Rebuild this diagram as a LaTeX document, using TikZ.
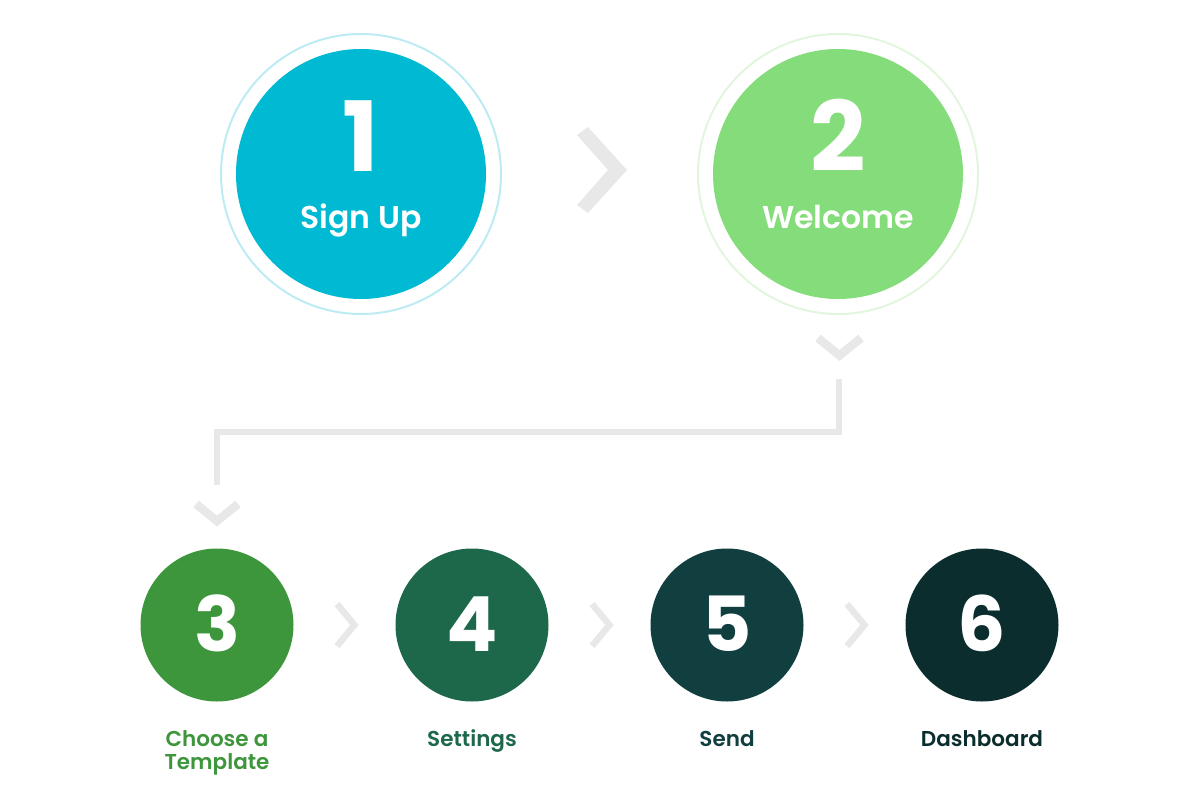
\documentclass[tikz,border=0pt]{standalone}
\usepackage{fontspec}
\setmainfont{Poppins}[BoldFont={Poppins SemiBold}]
\newfontfamily\numfont{Poppins Bold}
\definecolor{cA}{HTML}{00B9D3}
\definecolor{rA}{HTML}{BDEBF3}
\definecolor{cB}{HTML}{85DC7A}
\definecolor{rB}{HTML}{E2F6DE}
\definecolor{cC}{HTML}{3E963C}
\definecolor{cD}{HTML}{1D674B}
\definecolor{cE}{HTML}{113F40}
\definecolor{cF}{HTML}{0B2D2E}
\definecolor{gr}{HTML}{E8E8E8}
\tikzset{
  bigdisc/.style={circle, inner sep=0pt, minimum size=250pt},
  ringc/.style={circle, inner sep=0pt, minimum size=280pt, line width=2pt},
  smalldisc/.style={circle, inner sep=0pt, minimum size=153pt},
  bignum/.style={text=white, font=\fontsize{97}{97}\selectfont\numfont, anchor=base, inner sep=0pt},
  bigtxt/.style={text=white, font=\fontsize{31.5}{31.5}\selectfont\bfseries, anchor=base, inner sep=0pt},
  smallnum/.style={text=white, font=\fontsize{76}{76}\selectfont\numfont, anchor=base, inner sep=0pt},
  lbl/.style={font=\fontsize{21.5}{21.5}\selectfont\bfseries, anchor=base, inner sep=0pt},
  chev/.style={draw=gr, line cap=butt, line join=miter},
  conn/.style={draw=gr, line width=6pt, line join=miter, line cap=butt},
}
\begin{document}
\begin{tikzpicture}[x=1pt,y=-1pt]
\useasboundingbox (0,0) rectangle (1200,801);
% top circles
\node[ringc, draw=rA] (r1) at (361,174) {};
\node[bigdisc, fill=cA] (s1) at (361,174) {};
\node[ringc, draw=rB] (r2) at (838,174) {};
\node[bigdisc, fill=cB] (s2) at (838,174) {};
\node[bignum] (n1) at (361,171) {1};
\node[bigtxt] (t1) at (361,228) {Sign Up};
\node[bignum] (n2) at (838,171) {2};
\node[bigtxt] (t2) at (838,228) {Welcome};
% big chevron
\path[fill=gr] (588,127) -- (627,170) -- (588,213) -- (577,205) -- (608,170) -- (577,135) -- cycle;
% down chevrons
\coordinate (da) at (818,338);
\coordinate (db) at (839.5,355.5);
\coordinate (dc) at (861,338);
\draw[chev, line width=8.5pt] (da) -- (db) -- (dc);
\coordinate (ea) at (196,504);
\coordinate (eb) at (217,521);
\coordinate (ec) at (238,504);
\draw[chev, line width=8.5pt] (ea) -- (eb) -- (ec);
% connector
\coordinate (c2a) at (839,379);
\coordinate (m) at (528,432);
\coordinate (c3a) at (217,485);
\draw[conn] (c2a) |- (m) -| (c3a);
% bottom circles
\node[smalldisc, fill=cC] (s3) at (217,625) {};
\node[smalldisc, fill=cD] (s4) at (472,625) {};
\node[smalldisc, fill=cE] (s5) at (727,625) {};
\node[smalldisc, fill=cF] (s6) at (982,625) {};
\node[smallnum] (n3) at (217,651) {3};
\node[smallnum] (n4) at (472,651) {4};
\node[smallnum] (n5) at (727,651) {5};
\node[smallnum] (n6) at (982,651) {6};
% small chevrons
\foreach \x/\nm in {337/a, 592/b, 847/c}{
  \coordinate (p1\nm) at (\x,604);
  \coordinate (p2\nm) at (\x+17.5,625);
  \coordinate (p3\nm) at (\x,646);
  \draw[chev, line width=6.5pt] (p1\nm) -- (p2\nm) -- (p3\nm);
}
% labels
\node[lbl, text=cC] (l3) at (217,746) {Choose a};
\node[lbl, text=cC] (l3b) at (217,769) {Template};
\node[lbl, text=cD] (l4) at (472,746) {Settings};
\node[lbl, text=cE] (l5) at (727,746) {Send};
\node[lbl, text=cF] (l6) at (982,746) {Dashboard};
\end{tikzpicture}
\end{document}
